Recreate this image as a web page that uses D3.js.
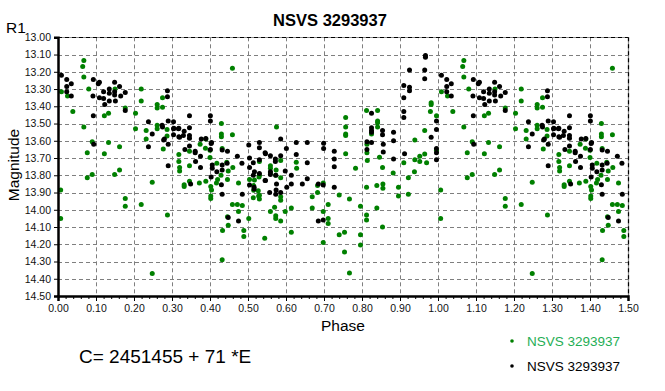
<!DOCTYPE html>
<html>
<head>
<meta charset="utf-8">
<script src="https://cdn.jsdelivr.net/npm/d3@7"></script>
<style>
  body { margin: 0; background: #fff; }
  svg { display: block; font-family: 'Liberation Sans', Arial, sans-serif; }
</style>
</head>
<body>
<div id="graph-area"></div>
<script>
const TITLE = 'NSVS 3293937'
const SERIES_NAMES = ['NSVS 3293937', 'NSVS 3293937']
const X_DOMAIN = [0, 1.5]
const Y_DOMAIN = [13, 14.5]
const X_TICKS = d3.range(0, 16).map(i => i / 10)
const Y_TICKS = d3.range(0, 16).map(i => 13 + i / 10)
const EPHEMERIS = 'C= 2451455 + 71 *E'

// [phase, magnitude] for one cycle, phases 0..0.5 are repeated at 1..1.5
const greenPoints = [
  [0.068, 13.135], [0.065, 13.17], [0.068, 13.23], [0.009, 13.315], [0.025, 13.34], [0.081, 13.30],
  [0.039, 13.43], [0.068, 13.52], [0.09, 13.605], [0.077, 13.67], [0.133, 13.61], [0.122, 13.675],
  [0.162, 13.635], [0.133, 13.44], [0.122, 13.455], [0.15, 13.30], [0.177, 13.41], [0.204, 13.44],
  [0.219, 13.30], [0.219, 13.37], [0.204, 13.53], [0.232, 13.54], [0.232, 13.59], [0.261, 13.39],
  [0.261, 13.41], [0.275, 13.405], [0.275, 13.35], [0.261, 13.51], [0.261, 13.53], [0.287, 13.535],
  [0.277, 13.647], [0.287, 13.572], [0.43, 13.50], [0.43, 13.56], [0.43, 13.576], [0.459, 13.565],
  [0.459, 13.18], [0.374, 13.62], [0.389, 13.59], [0.388, 13.643], [0.40, 13.655], [0.40, 13.697],
  [0.318, 13.68], [0.318, 13.72], [0.32, 13.755], [0.32, 13.775], [0.346, 13.745], [0.432, 13.645],
  [0.346, 13.66], [0.418, 13.73], [0.444, 13.725], [0.46, 13.755],
  [0.007, 13.885], [0.007, 14.05], [0.077, 13.815], [0.09, 13.795], [0.149, 13.795], [0.162, 13.77],
  [0.177, 13.935], [0.177, 13.98], [0.219, 13.97], [0.248, 13.84], [0.288, 14.03], [0.248, 14.37],
  [0.332, 13.855], [0.332, 13.865], [0.346, 13.835], [0.372, 13.845], [0.389, 13.835], [0.402, 13.865],
  [0.404, 13.885], [0.402, 13.92], [0.402, 13.935], [0.417, 13.845], [0.42, 13.825], [0.446, 13.825],
  [0.448, 13.775], [0.475, 13.845], [0.459, 13.97], [0.472, 13.97], [0.485, 13.975], [0.475, 14.01],
  [0.446, 14.04], [0.448, 14.09], [0.433, 14.12], [0.489, 14.12], [0.489, 14.155], [0.432, 14.29],
  [0.502, 14.05], [0.429, 13.80],
  [0.575, 13.52], [0.586, 13.715], [0.53, 13.72], [0.559, 13.745], [0.627, 13.725], [0.757, 13.465],
  [0.757, 13.52], [0.757, 13.56], [0.757, 13.57], [0.757, 13.675], [0.783, 13.76], [0.812, 13.425],
  [0.841, 13.425], [0.841, 13.485], [0.841, 13.495], [0.841, 13.52], [0.825, 13.56], [0.813, 13.62],
  [0.813, 13.67], [0.814, 13.715], [0.846, 13.695], [0.854, 13.755], [0.982, 13.38], [0.982, 13.39],
  [0.98, 13.43], [0.996, 13.455], [0.965, 13.54], [0.939, 13.595], [0.996, 13.655], [0.965, 13.677],
  [0.952, 13.69], [0.939, 13.71], [0.952, 13.72], [0.91, 13.727], [0.97, 13.727],
  [0.559, 13.76], [0.574, 13.77], [0.628, 13.76], [0.53, 13.80], [0.517, 13.827], [0.527, 13.89],
  [0.53, 13.916], [0.53, 13.937], [0.514, 13.93], [0.544, 14.165], [0.559, 14.01], [0.57, 13.985],
  [0.573, 14.035], [0.573, 14.05], [0.586, 14.065], [0.586, 13.925], [0.586, 13.945], [0.598, 14.01],
  [0.614, 13.99], [0.614, 14.13], [0.669, 13.925], [0.669, 13.99], [0.683, 13.86], [0.683, 13.90],
  [0.698, 13.845], [0.698, 14.01], [0.711, 13.97], [0.711, 14.05], [0.711, 14.08], [0.698, 14.19],
  [0.74, 13.915], [0.74, 14.145], [0.754, 14.13], [0.767, 13.937], [0.754, 14.245], [0.767, 14.367],
  [0.796, 13.98], [0.796, 14.145], [0.796, 14.205], [0.812, 13.87], [0.812, 14.03], [0.812, 14.06],
  [0.839, 13.86], [0.839, 13.99], [0.855, 13.85], [0.855, 13.875], [0.854, 14.10], [0.882, 13.787],
  [0.896, 13.87], [0.896, 13.92], [0.922, 13.815], [0.922, 13.91], [0.938, 13.78],
  [0.504, 13.825], [0.515, 13.86], [0.515, 13.887], [0.528, 13.92], [0.529, 13.81], [0.559, 13.785],
  [0.573, 13.80], [0.586, 13.815]
]

const blackPoints = [
  [0.009, 13.22], [0.023, 13.245], [0.023, 13.285], [0.035, 13.27], [0.023, 13.315], [0.035, 13.34],
  [0.093, 13.245], [0.106, 13.27], [0.109, 13.26], [0.092, 13.34], [0.093, 13.455], [0.094, 13.62],
  [0.12, 13.315], [0.109, 13.35], [0.12, 13.355], [0.123, 13.39], [0.135, 13.30], [0.135, 13.325],
  [0.135, 13.37], [0.149, 13.26], [0.149, 13.315], [0.149, 13.335], [0.151, 13.37], [0.162, 13.285],
  [0.165, 13.34], [0.177, 13.32], [0.177, 13.425], [0.288, 13.31], [0.288, 13.345], [0.238, 13.49],
  [0.248, 13.56], [0.238, 13.635], [0.274, 13.51], [0.278, 13.595], [0.29, 13.485], [0.304, 13.49],
  [0.29, 13.62], [0.304, 13.53], [0.304, 13.565], [0.317, 13.53], [0.32, 13.58], [0.332, 13.545],
  [0.33, 13.57], [0.346, 13.455], [0.346, 13.525], [0.346, 13.57], [0.346, 13.585], [0.346, 13.63],
  [0.334, 13.65], [0.361, 13.66], [0.362, 13.72], [0.377, 13.59], [0.375, 13.69], [0.401, 13.455],
  [0.401, 13.485], [0.404, 13.61], [0.401, 13.65], [0.389, 13.587], [0.432, 13.653], [0.446, 13.66],
  [0.472, 13.69], [0.484, 13.73], [0.275, 13.52], [0.28, 13.59], [0.305, 13.527], [0.318, 13.527],
  [0.318, 13.577], [0.361, 13.67], [0.375, 13.755], [0.29, 13.745], [0.403, 13.616], [0.445, 13.73],
  [0.432, 13.74], [0.406, 13.74], [0.406, 13.76], [0.418, 13.78], [0.403, 13.81], [0.432, 13.91],
  [0.349, 13.85], [0.43, 13.855], [0.485, 13.91], [0.448, 14.045], [0.475, 14.065], [0.432, 13.77],
  [0.502, 13.624], [0.53, 13.61], [0.53, 13.64], [0.504, 13.70], [0.514, 13.727], [0.53, 13.71],
  [0.546, 13.675], [0.559, 13.687], [0.572, 13.705], [0.572, 13.72], [0.586, 13.687], [0.504, 13.755],
  [0.586, 13.59], [0.601, 13.645], [0.627, 13.61], [0.656, 13.61], [0.699, 13.615], [0.699, 13.645],
  [0.627, 13.68], [0.656, 13.727], [0.727, 13.66], [0.727, 13.705], [0.727, 13.75], [0.545, 13.67],
  [0.825, 13.44], [0.825, 13.525], [0.825, 13.54], [0.825, 13.55], [0.854, 13.54], [0.854, 13.565],
  [0.883, 13.55], [0.883, 13.60], [0.813, 13.605], [0.825, 13.61], [0.856, 13.62], [0.813, 13.65],
  [0.856, 13.665], [0.883, 13.705], [0.912, 13.675],
  [0.967, 13.105], [0.967, 13.115], [0.925, 13.19], [0.965, 13.19], [0.965, 13.24], [0.91, 13.28],
  [0.925, 13.29], [0.925, 13.31], [0.91, 13.35], [0.91, 13.43], [0.91, 13.465], [0.996, 13.485],
  [0.996, 13.535], [0.982, 13.58], [0.996, 13.645], [0.996, 13.67], [0.996, 13.71],
  [0.517, 13.78], [0.514, 13.80], [0.504, 13.856], [0.516, 13.87], [0.516, 13.88], [0.546, 13.83],
  [0.559, 13.78], [0.559, 13.795], [0.573, 13.80], [0.575, 13.85], [0.574, 13.885], [0.573, 13.91],
  [0.586, 13.90], [0.557, 13.90], [0.598, 13.775], [0.614, 13.80], [0.614, 13.85], [0.602, 13.87],
  [0.643, 13.85], [0.656, 13.82], [0.685, 13.85], [0.698, 13.856], [0.727, 13.87], [0.685, 14.065],
  [0.698, 14.06], [0.53, 13.79], [0.545, 13.83]
]

// repeat the first half of the cycle after phase 1
function foldPhase(points) {
  const out = points.slice()
  points.forEach(p => {
    if (p[0] <= 0.5) out.push([p[0] + 1, p[1]])
  })
  return out
}

var width = 665
var height = 391
var plot = { left: 58, right: 628, top: 37.3, bottom: 296 }

var svg = d3
  .select('#graph-area')
  .append('svg')
  .attr('width', width)
  .attr('height', height)

var xScale = d3.scaleLinear().domain(X_DOMAIN).range([plot.left, plot.right])
var yScale = d3.scaleLinear().domain(Y_DOMAIN).range([plot.top, plot.bottom])

// dashed grid
var grid = svg.append('g').attr('stroke', '#7f7f7f').attr('stroke-dasharray', '4,3')
grid
  .selectAll('.vgrid')
  .data(X_TICKS.slice(1, -1))
  .enter()
  .append('line')
  .attr('x1', d => Math.round(xScale(d)) + 0.5)
  .attr('x2', d => Math.round(xScale(d)) + 0.5)
  .attr('y1', plot.top)
  .attr('y2', plot.bottom)
grid
  .selectAll('.hgrid')
  .data(Y_TICKS.slice(1, -1))
  .enter()
  .append('line')
  .attr('y1', d => Math.round(yScale(d)) + 0.5)
  .attr('y2', d => Math.round(yScale(d)) + 0.5)
  .attr('x1', plot.left)
  .attr('x2', plot.right)

// top and right frame: black dashes over grey
var frame = [
  [plot.left, Math.round(plot.top) + 0.5, plot.right, Math.round(plot.top) + 0.5],
  [plot.right + 0.5, plot.top, plot.right + 0.5, plot.bottom]
]
frame.forEach(f => {
  svg.append('line').attr('x1', f[0]).attr('y1', f[1]).attr('x2', f[2]).attr('y2', f[3])
    .attr('stroke', '#8c8c8c').attr('stroke-width', 1.2)
  svg.append('line').attr('x1', f[0]).attr('y1', f[1]).attr('x2', f[2]).attr('y2', f[3])
    .attr('stroke', '#000').attr('stroke-width', 1.2).attr('stroke-dasharray', '4,3')
})

// points
function drawPoints(points, color) {
  svg
    .append('g')
    .selectAll('circle')
    .data(foldPhase(points))
    .enter()
    .append('circle')
    .attr('cx', d => xScale(d[0]))
    .attr('cy', d => yScale(d[1]))
    .attr('r', 2.5)
    .attr('fill', color)
}
drawPoints(greenPoints, '#008000')
drawPoints(blackPoints, '#000')

// y axis
var yAxis = svg
  .append('g')
  .attr('transform', 'translate(' + plot.left + ',0)')
  .call(d3.axisLeft(yScale).tickValues(Y_TICKS).tickFormat(d3.format('.2f')).tickSize(4).tickPadding(3))
yAxis.select('.domain').attr('stroke-width', 2.5)
yAxis.selectAll('text').attr('font-size', 10.5).attr('fill', '#111')

// x axis with minor ticks
var minorTicks = d3.range(0, 76).map(i => i / 50)
svg
  .append('g')
  .attr('transform', 'translate(0,' + plot.bottom + ')')
  .call(d3.axisBottom(xScale).tickValues(minorTicks).tickFormat('').tickSize(3))
  .select('.domain').remove()
var xAxis = svg
  .append('g')
  .attr('transform', 'translate(0,' + plot.bottom + ')')
  .call(d3.axisBottom(xScale).tickValues(X_TICKS).tickFormat(d3.format('.2f')).tickSize(5).tickPadding(4))
xAxis.select('.domain').attr('stroke-width', 2.5)
xAxis.selectAll('text').attr('font-size', 10.5).attr('fill', '#111')

// texts
svg.append('text')
  .attr('x', 330).attr('y', 26)
  .attr('text-anchor', 'middle')
  .attr('font-size', 16.5).attr('font-weight', 'bold')
  .text(TITLE)

svg.append('text').attr('x', 6).attr('y', 33).attr('font-size', 15.5).text('R1')

svg.append('text')
  .attr('transform', 'translate(19,165) rotate(-90)')
  .attr('text-anchor', 'middle')
  .attr('font-size', 15.5)
  .text('Magnitude')

svg.append('text')
  .attr('x', 343).attr('y', 331)
  .attr('text-anchor', 'middle')
  .attr('font-size', 15.5)
  .text('Phase')

svg.append('text').attr('x', 79).attr('y', 363).attr('font-size', 19).text(EPHEMERIS)

// legend
var legendColors = [['#008000', '#1fae55'], ['#000', '#000']]
var legend = svg
  .selectAll('.legend')
  .data(SERIES_NAMES)
  .enter()
  .append('g')
  .attr('transform', (d, i) => 'translate(512,' + (341 + i * 25) + ')')
legend.append('circle').attr('r', 1.8).attr('fill', (d, i) => legendColors[i][0])
legend.append('text')
  .attr('x', 15).attr('y', 5)
  .attr('font-size', 13.5)
  .attr('fill', (d, i) => legendColors[i][1])
  .text(d => d)
</script>
</body>
</html>
